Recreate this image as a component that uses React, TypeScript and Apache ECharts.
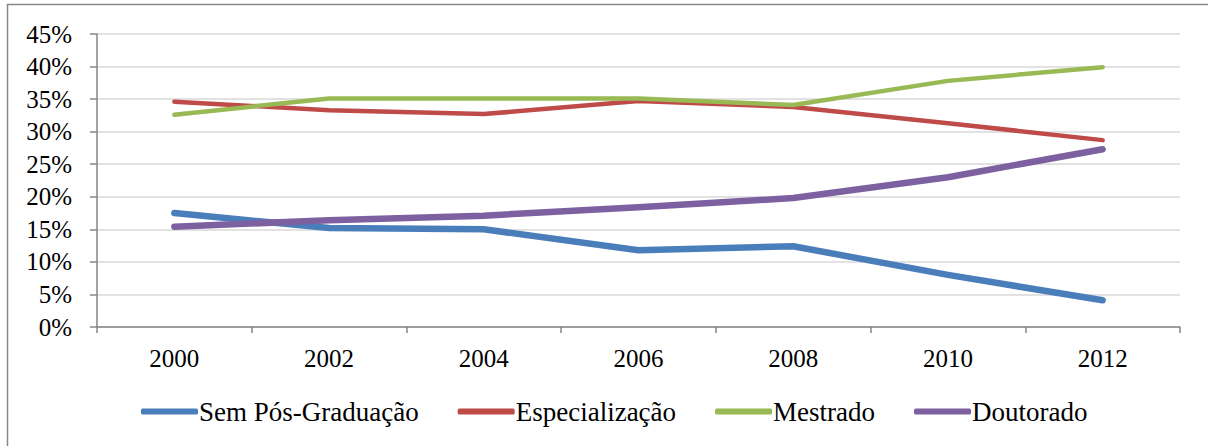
import React, { useEffect, useRef } from "react";
import * as echarts from "echarts";

const years = ["2000", "2002", "2004", "2006", "2008", "2010", "2012"];
const semPos = [17.5, 15.2, 15.0, 11.8, 12.4, 8.0, 4.1];
const especializacao = [34.6, 33.3, 32.7, 34.7, 33.8, 31.3, 28.7];
const mestrado = [32.6, 35.1, 35.1, 35.1, 34.1, 37.8, 39.9];
const doutorado = [15.4, 16.4, 17.1, 18.4, 19.8, 23.0, 27.3];
const seriesNames = ["Sem Pós-Graduação", "Especialização", "Mestrado", "Doutorado"];

const FONT = "'Liberation Serif', 'Times New Roman', serif";

export default function App() {
  const ref = useRef<HTMLDivElement>(null);
  useEffect(() => {
    if (!ref.current) return;
    const chart = echarts.init(ref.current, null, { renderer: "svg" });
    const mk = (name: string, data: number[], color: string, width: number) => ({
      name,
      type: "line",
      data,
      symbol: "none",
      lineStyle: { color, width, cap: "round", join: "round" },
      itemStyle: { color },
    });
    chart.setOption({
      animation: false,
      backgroundColor: "#ffffff",
      graphic: [
        {
          type: "polyline",
          shape: { points: [[7.5, 446], [7.5, 4.5], [1208, 4.5]] },
          style: { stroke: "#888888", lineWidth: 1.5, fill: "none" },
          silent: true,
        },
      ],
      grid: { left: 97, top: 34, width: 1083, height: 293, containLabel: false },
      xAxis: {
        type: "category",
        data: years,
        boundaryGap: true,
        axisLine: { lineStyle: { color: "#868686", width: 1.5 } },
        axisTick: { show: true, length: 6, lineStyle: { color: "#868686", width: 1.5 } },
        axisLabel: { color: "#000", fontFamily: FONT, fontSize: 25, margin: 19 },
        splitLine: { show: false },
      },
      yAxis: {
        type: "value",
        min: 0,
        max: 45,
        interval: 5,
        axisLine: { show: true, lineStyle: { color: "#868686", width: 1.5 } },
        axisTick: { show: true, length: 7, lineStyle: { color: "#868686", width: 1.5 } },
        axisLabel: {
          color: "#000",
          fontFamily: FONT,
          fontSize: 25,
          margin: 25,
          formatter: (v: number) => `${v}%`,
        },
        splitLine: { show: true, lineStyle: { color: "#d9d9d9", width: 1.5 } },
      },
      legend: {
        data: seriesNames,
        left: 141,
        top: 398,
        padding: 0,
        icon: "roundRect",
        itemWidth: 57,
        itemHeight: 6,
        itemGap: 39,
        textStyle: { color: "#000", fontFamily: FONT, fontSize: 27, padding: [0, 0, 0, -4] },
      },
      series: [
        mk(seriesNames[0], semPos, "#4A7EBB", 6.5),
        mk(seriesNames[1], especializacao, "#BE4B48", 4.5),
        mk(seriesNames[2], mestrado, "#98B954", 4.5),
        mk(seriesNames[3], doutorado, "#7D60A0", 6.5),
      ],
    });
    return () => chart.dispose();
  }, []);
  return (
    <div
      ref={ref}
      style={{ position: "absolute", left: 0, top: 0, width: 1208, height: 446, background: "#fff" }}
    />
  );
}
